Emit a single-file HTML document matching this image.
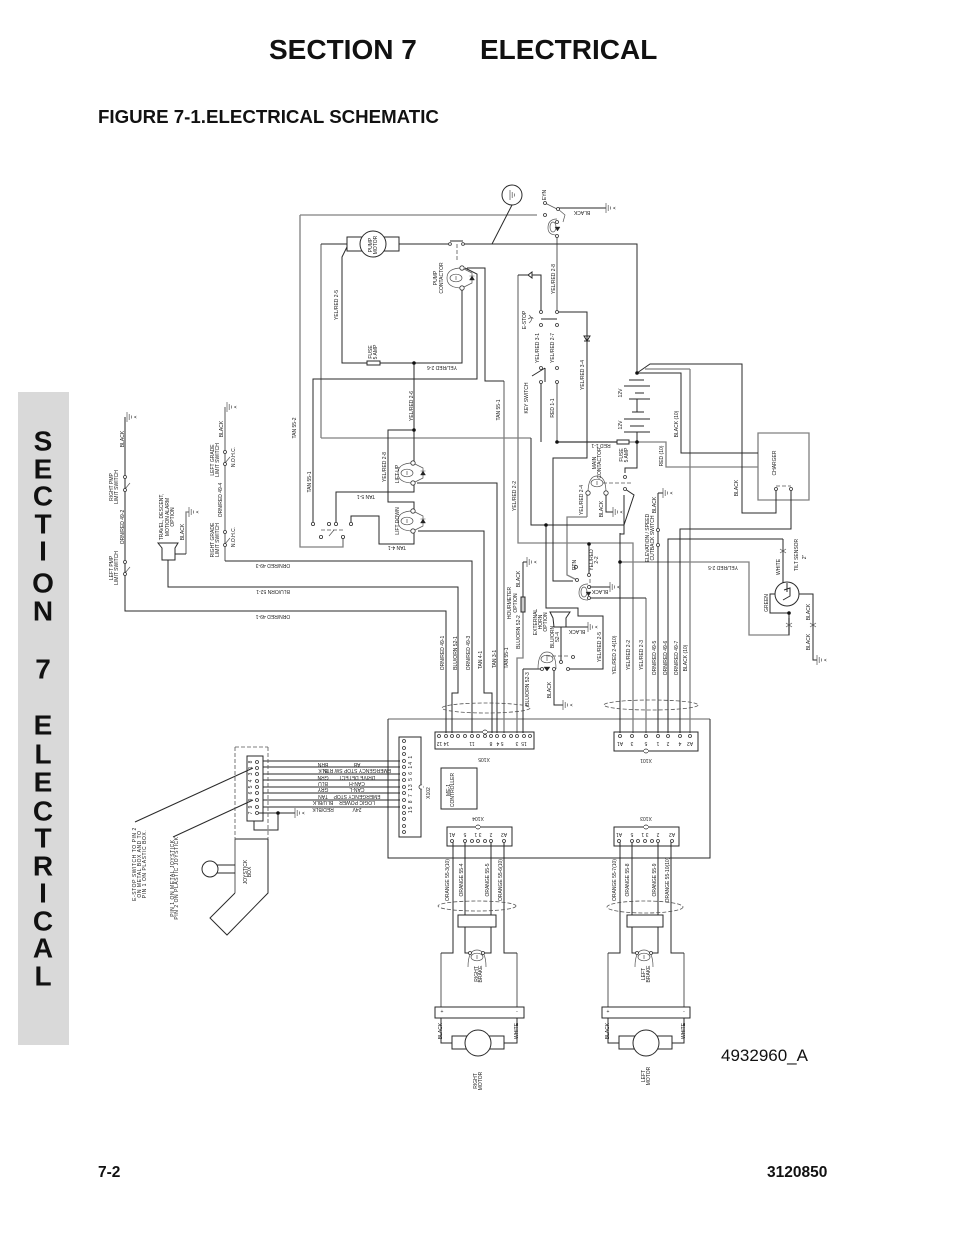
<!DOCTYPE html>
<html><head><meta charset="utf-8"><style>
html,body{margin:0;padding:0;background:#fff}
#p{position:relative;width:954px;height:1235px;overflow:hidden;font-family:"Liberation Sans",sans-serif;color:#111}
.a{position:absolute;white-space:nowrap;line-height:1}
svg{position:absolute;left:0;top:0}
.d{fill:none;stroke:#2a2a2a;stroke-width:1}
.g{fill:none;stroke:#808080;stroke-width:1.3}
.f{fill:none;stroke:#555;stroke-width:.7}
.h{fill:none;stroke:#555;stroke-width:.8;stroke-dasharray:4 2}
.c circle{fill:#fff;stroke:#333;stroke-width:.8}
.b circle{fill:#111;stroke:none}
.k{fill:#222;stroke:#222;stroke-width:.4}
text{font-family:"Liberation Sans",sans-serif;font-size:5px;fill:#222;text-anchor:middle;dominant-baseline:central}
.s text{font-size:28px;font-weight:bold;fill:#111}
.w{letter-spacing:.55px}
</style></head><body><div id="p">
<div class="a" style="left:269px;top:36px;font-size:28px;font-weight:bold">SECTION 7</div>
<div class="a" style="left:480px;top:36px;font-size:28px;font-weight:bold">ELECTRICAL</div>
<div class="a" style="left:98px;top:108px;font-size:18.7px;font-weight:bold">FIGURE 7-1.ELECTRICAL SCHEMATIC</div>
<div class="a" style="left:18px;top:392px;width:51px;height:653px;background:#d9d9d9"></div>
<div class="a" style="left:721px;top:1047px;font-size:17px">4932960_A</div>
<div class="a" style="left:98px;top:1165px;font-size:15.5px;font-weight:bold">7-2</div>
<div class="a" style="left:767px;top:1165px;font-size:15.5px;font-weight:bold">3120850</div>
<svg width="954" height="1235" viewBox="0 0 954 1235">
<defs>
<g id="gr"><path class="f" d="M0-5V5M2.2-3V3M4.4-1.5V1.5"/><text x="8" y="0" transform="rotate(-90 8 0)" style="font-size:4px">A</text></g>
<g id="sw"><path class="f" d="M0-1 5-7"/></g>
<g id="cl"><ellipse class="f" cx="0" cy="0" rx="6" ry="3.8"/><path class="f" d="M6-10Q-9-10-9 0Q-9 10 6 10M0-2V2M6-10 16-5V5L6 10"/><path class="k" d="M13.5 2H18.5L16-2ZM13.5-2H18.5"/></g>
<g id="cm"><ellipse class="f" cx="0" cy="0" rx="6" ry="3.8"/><path class="f" d="M-9 10Q-9-7 0-7Q9-7 9 10M0-2V2"/></g>
<g id="cr"><path class="f" d="M0-9Q-9-9-9 0Q-9 7 0 7"/><ellipse class="f" cx="-4" cy="-1" rx="3" ry="5"/><path class="k" d="M-2-1H3L.5 3Z"/></g>
</defs>
<g class="s">
<text x="43" y="441">S</text><text x="43" y="469">E</text><text x="43" y="496">C</text><text x="43" y="524">T</text><text x="43" y="551">I</text><text x="43" y="583">O</text><text x="43" y="611">N</text><text x="43" y="669">7</text><text x="43" y="725">E</text><text x="43" y="754">L</text><text x="43" y="782">E</text><text x="43" y="811">C</text><text x="43" y="838">T</text><text x="43" y="866">R</text><text x="43" y="893">I</text><text x="43" y="921">C</text><text x="43" y="948">A</text><text x="43" y="976">L</text>
</g>
<!-- grey wires -->
<path class="g" d="M300 215H537M300 215V547H343V537M321 244V438M518 275V543H633V733M557 237V312M690 369V733M645 369H690M557 382V442H617M629 442H666V467H758M587 517H567V575L577 580M646 598V733M620 562H749V635H789V618M504 381V733M321 438H531M523 612V658H517V733M186 554V512H189M225 407V561M758 433H809V500H758Z"/>
<path class="g" d="M441 953V1007M517 953V1007M608 953V1007M684 953V1007M388 719H710M235 839V893M587 493V517"/>
<!-- dark wires -->
<path class="d" d="M321 244H347M399 244H450M463 244H637V373M512 205 492 244M347 247 342 257V363H367M380 363H462V288M414 363V462M414 430H388V502H414V511M467 268H485V381H504M465 268 477 274V379H313V523M417 483H497V733M414 483V492H336V523M418 531H484V693H492V733M414 531V544H379V516H351V523M225 561H472V733M168 560V587H458V693H452V733M125 417V611H446V733"/>
<path class="d" d="M518 275H528M532 275H541V312M557 312H587V458H553V581H573M541 319H557M541 382V442M558 208H606M557 442H617M637 442V468H625V473M637 373 650 364H742V513H776V489M637 373H681V453H758M791 489V529H680V733M783 539H668V733M783 539V583M781 594H770V613H789M789 613V635M620 533V733M620 534H624V495M625 489 634 495 624 525H531V438M658 493V733M663 493H658M589 544V575M589 587H610M589 598H646M546 525V608H578V616H603V669H569M561 627V662M566 627H588M523 669H541M523 669V733M554 669V705H563M523 562V597M527 562H523M606 493V512H613"/>
<path class="d" d="M125 477V490M175 554H186M545 368V382M532 376 545 368M453 841V953H441M465 841V915M465 927V953H470M491 841V915M491 927V953H483M504 841V953H517M441 1018V1043H452M504 1043H517V1018M620 841V953H608M632 841V915M632 927V953H637M658 841V915M658 927V953H651M671 841V953H684M608 1018V1043H619M672 1043H684V1018M799 594H813V660H817"/>
<path class="d" d="M263 761H400M263 767H400M263 774H400M263 780H400M263 787H400M263 793H400M263 800H400M263 807H400M257 813H295M278 813V830H254V821M253 768 135 822M253 800 173 837M217 865H235M217 873H235M235 839H268M268 839V893L227 935 210 918 235 893"/>
<path class="f" d="M558 209 565 215 563 222M545 203 557 209M503 195H510M780 549 786 553M786 549 780 553M786 623 792 627M792 623 786 627M810 623 816 627M816 623 810 627M528 319Q533 316 533 319M529 315Q534 319 529 323"/>
<!-- boxes -->
<g class="d">
<rect x="347" y="237" width="52" height="14"/><circle cx="373" cy="244" r="13" fill="#fff"/>
<rect x="367" y="361" width="13" height="4" fill="#fff"/><rect x="617" y="440" width="12" height="4" fill="#fff"/>
<circle cx="512" cy="195" r="10" fill="#fff"/>
<path d="M388 719V858H710V719"/>
<rect x="435" y="732" width="99" height="17"/><rect x="614" y="732" width="84" height="19"/><rect x="399" y="737" width="22" height="100"/><rect x="441" y="768" width="36" height="41"/><rect x="447" y="827" width="65" height="19"/><rect x="614" y="827" width="65" height="19"/>
<rect x="247" y="756" width="16" height="65"/>
<rect x="458" y="915" width="38" height="12" fill="#fff"/><rect x="627" y="915" width="36" height="12" fill="#fff"/>
<rect x="435" y="1007" width="89" height="11" fill="#fff"/><rect x="602" y="1007" width="88" height="11" fill="#fff"/>
<rect x="452" y="1036" width="52" height="13"/><circle cx="478" cy="1043" r="13" fill="#fff"/>
<rect x="619" y="1036" width="53" height="13"/><circle cx="646" cy="1043" r="13" fill="#fff"/>
<circle cx="210" cy="869" r="8"/><circle cx="787" cy="594" r="12" fill="#fff"/>
<path d="M158 543H178L175 548V560H162V548ZM550 612H570L566 618V627H554L553 618Z" fill="#fff"/>
<rect x="521" y="597" width="4" height="15" fill="#ccc"/>
<path d="M629 380H644M624 386H650M635 393H644M629 399H650M637 399V412M632 412H644M624 419H650M630 426H644M624 432H650M637 432V442"/>
<path d="M450 241H463"/>
<path d="M784 590 790 588V596L783 600M787 592V583"/>
<path d="M584 336H590L587 341ZM584 341H590M532 272V278L528 275Z"/>
</g>
<path class="h" d="M457 244V262M603 483H632M321 530H343M776 486H791M235 747H268M268 747V839M235 747V839M546 656H569M590 579V590"/>
<g class="h"><ellipse cx="486" cy="708" rx="44" ry="5" fill="none"/><ellipse cx="651" cy="705" rx="47" ry="5" fill="none"/><ellipse cx="477" cy="906" rx="39" ry="5" fill="none"/><ellipse cx="645" cy="907" rx="38" ry="6" fill="none"/></g>
<use href="#cl" x="456" y="278"/><use href="#cl" x="407" y="473"/><use href="#cl" x="407" y="521"/><use href="#cm" x="597" y="483"/><use href="#cr" x="557" y="228"/><use href="#cr" x="588" y="593"/><use href="#cm" x="547" y="659"/><use href="#cm" x="477" y="957"/><use href="#cm" x="644" y="957"/>
<path class="k" d="M544 667H550L547 671Z"/>
<use href="#gr" x="606" y="208"/><use href="#gr" x="610" y="587"/><use href="#gr" x="613" y="512"/><use href="#gr" x="663" y="493"/><use href="#gr" x="588" y="627"/><use href="#gr" x="563" y="705"/><use href="#gr" x="527" y="562"/><use href="#gr" x="127" y="417"/><use href="#gr" x="227" y="407"/><use href="#gr" x="189" y="512"/><use href="#gr" x="295" y="813"/><use href="#gr" x="817" y="660"/>
<path class="f" d="M510 190V200M512.200 192V198M514.400 193.500V196.500"/>
<use href="#sw" x="225" y="464"/><use href="#sw" x="225" y="545"/><use href="#sw" x="125" y="490"/><use href="#sw" x="125" y="574"/><use href="#sw" x="329" y="537"/>
<g class="c">
<circle cx="462" cy="268" r="2.2"/><circle cx="462" cy="288" r="2.2"/><circle cx="413" cy="463" r="2.2"/><circle cx="413" cy="483" r="2.2"/><circle cx="413" cy="511" r="2.2"/><circle cx="413" cy="531" r="2.2"/><circle cx="450" cy="244" r="1.4"/><circle cx="463" cy="244" r="1.4"/>
<circle cx="313" cy="524" r="1.6"/><circle cx="329" cy="524" r="1.6"/><circle cx="336" cy="524" r="1.6"/><circle cx="351" cy="524" r="1.6"/><circle cx="321" cy="537" r="1.6"/><circle cx="343" cy="537" r="1.6"/>
<circle cx="545" cy="203" r="1.5"/><circle cx="558" cy="209" r="1.5"/><circle cx="545" cy="215" r="1.5"/><circle cx="557" cy="222" r="1.5"/><circle cx="557" cy="236" r="1.5"/>
<circle cx="541" cy="312" r="1.5"/><circle cx="557" cy="312" r="1.5"/><circle cx="541" cy="325" r="1.5"/><circle cx="557" cy="325" r="1.5"/><circle cx="541" cy="368" r="1.5"/><circle cx="557" cy="368" r="1.5"/><circle cx="541" cy="382" r="1.5"/><circle cx="557" cy="382" r="1.5"/>
<circle cx="625" cy="477" r="1.5"/><circle cx="625" cy="489" r="1.5"/><circle cx="588" cy="493" r="2.2"/><circle cx="606" cy="493" r="2.2"/><circle cx="658" cy="530" r="1.5"/><circle cx="658" cy="545" r="1.5"/><circle cx="776" cy="489" r="1.5"/><circle cx="791" cy="489" r="1.5"/>
<circle cx="576" cy="567" r="1.5"/><circle cx="589" cy="575" r="1.5"/><circle cx="577" cy="580" r="1.5"/><circle cx="589" cy="587" r="1.5"/><circle cx="589" cy="598" r="1.5"/><circle cx="573" cy="657" r="1.5"/><circle cx="561" cy="662" r="1.5"/><circle cx="568" cy="669" r="1.5"/><circle cx="542" cy="669" r="1.5"/><circle cx="554" cy="669" r="1.5"/>
<circle cx="225" cy="452" r="1.5"/><circle cx="225" cy="464" r="1.5"/><circle cx="225" cy="532" r="1.5"/><circle cx="225" cy="545" r="1.5"/><circle cx="125" cy="477" r="1.5"/><circle cx="125" cy="490" r="1.5"/><circle cx="125" cy="562" r="1.5"/><circle cx="125" cy="574" r="1.5"/>
<circle cx="439" cy="736" r="1.5"/><circle cx="446" cy="736" r="1.5"/><circle cx="452" cy="736" r="1.5"/><circle cx="458" cy="736" r="1.5"/><circle cx="465" cy="736" r="1.5"/><circle cx="472" cy="736" r="1.5"/><circle cx="478" cy="736" r="1.5"/><circle cx="485" cy="736" r="1.5"/><circle cx="491" cy="736" r="1.5"/><circle cx="497" cy="736" r="1.5"/><circle cx="504" cy="736" r="1.5"/><circle cx="511" cy="736" r="1.5"/><circle cx="517" cy="736" r="1.5"/><circle cx="524" cy="736" r="1.5"/><circle cx="530" cy="736" r="1.5"/>
<circle cx="620" cy="736" r="1.5"/><circle cx="632" cy="736" r="1.5"/><circle cx="646" cy="736" r="1.5"/><circle cx="658" cy="736" r="1.5"/><circle cx="668" cy="736" r="1.5"/><circle cx="680" cy="736" r="1.5"/><circle cx="690" cy="736" r="1.5"/>
<circle cx="404" cy="741" r="1.5"/><circle cx="404" cy="748" r="1.5"/><circle cx="404" cy="754" r="1.5"/><circle cx="404" cy="761" r="1.5"/><circle cx="404" cy="767" r="1.5"/><circle cx="404" cy="774" r="1.5"/><circle cx="404" cy="780" r="1.5"/><circle cx="404" cy="787" r="1.5"/><circle cx="404" cy="793" r="1.5"/><circle cx="404" cy="800" r="1.5"/><circle cx="404" cy="807" r="1.5"/><circle cx="404" cy="813" r="1.5"/><circle cx="404" cy="819" r="1.5"/><circle cx="404" cy="826" r="1.5"/><circle cx="404" cy="832" r="1.5"/>
<circle cx="452" cy="841" r="1.5"/><circle cx="465" cy="841" r="1.5"/><circle cx="472" cy="841" r="1.5"/><circle cx="478" cy="841" r="1.5"/><circle cx="485" cy="841" r="1.5"/><circle cx="491" cy="841" r="1.5"/><circle cx="504" cy="841" r="1.5"/>
<circle cx="619" cy="841" r="1.5"/><circle cx="632" cy="841" r="1.5"/><circle cx="638" cy="841" r="1.5"/><circle cx="645" cy="841" r="1.5"/><circle cx="652" cy="841" r="1.5"/><circle cx="658" cy="841" r="1.5"/><circle cx="672" cy="841" r="1.5"/>
<circle cx="257" cy="762" r="1.5"/><circle cx="257" cy="768" r="1.5"/><circle cx="257" cy="774" r="1.5"/><circle cx="257" cy="781" r="1.5"/><circle cx="257" cy="787" r="1.5"/><circle cx="257" cy="793" r="1.5"/><circle cx="257" cy="800" r="1.5"/><circle cx="257" cy="807" r="1.5"/><circle cx="257" cy="813" r="1.5"/>
<circle cx="470" cy="953" r="1.5"/><circle cx="483" cy="953" r="1.5"/><circle cx="637" cy="953" r="1.5"/><circle cx="651" cy="953" r="1.5"/>
<circle cx="485" cy="732" r="2"/><circle cx="646" cy="751" r="2"/><circle cx="421" cy="787" r="2"/><circle cx="478" cy="827" r="2"/><circle cx="646" cy="827" r="2"/>
</g>
<path d="M483 731H487V733H483ZM644 750H648V752H644ZM421.500 785H423V789H421.500ZM476 826H480V828H476ZM644 826H648V828H644Z" fill="#fff"/>
<g class="b"><circle cx="414" cy="363" r="1.8"/><circle cx="414" cy="430" r="1.8"/><circle cx="637" cy="373" r="1.8"/><circle cx="557" cy="442" r="1.8"/><circle cx="637" cy="442" r="1.8"/><circle cx="546" cy="525" r="1.8"/><circle cx="589" cy="544" r="1.8"/><circle cx="620" cy="562" r="1.8"/><circle cx="789" cy="613" r="1.8"/><circle cx="278" cy="813" r="1.8"/></g>
<!-- labels -->
<g>
<text transform="translate(337 305) rotate(-90)">YEL/RED 2-5</text>
<text transform="translate(371 352) rotate(-90)">FUSE</text><text transform="translate(376 352) rotate(-90)">5 AMP</text>
<text transform="translate(371 245) rotate(-90)">PUMP</text><text transform="translate(376 245) rotate(-90)">MOTOR</text>
<text transform="translate(436 278) rotate(-90)">PUMP</text><text transform="translate(442 278) rotate(-90)">CONTACTOR</text>
<text transform="translate(442 367) rotate(180)">YEL/RED 2-6</text>
<text transform="translate(412 406) rotate(-90)">YEL/RED 2-6</text>
<text transform="translate(525 320) rotate(-90)">E-STOP</text>
<text transform="translate(538 348) rotate(-90)">YEL/RED 3-1</text>
<text transform="translate(553 348) rotate(-90)">YEL/RED 2-7</text>
<text transform="translate(527 398) rotate(-90)">KEY SWITCH</text>
<text transform="translate(499 410) rotate(-90)">TAN 55-1</text>
<text transform="translate(295 428) rotate(-90)">TAN 55-2</text>
<text transform="translate(310 482) rotate(-90)">TAN 55-1</text>
<text transform="translate(366 496) rotate(180)">TAN 5-1</text>
<text transform="translate(385 467) rotate(-90)">YEL/RED 2-8</text>
<text transform="translate(398 474) rotate(-90)">LIFT UP</text>
<text transform="translate(398 521) rotate(-90)">LIFT DOWN</text>
<text transform="translate(397 547) rotate(180)">TAN 4-1</text>
<text transform="translate(515 496) rotate(-90)">YEL/RED 2-2</text>
<text transform="translate(443 653) rotate(-90)">ORN/RED 49-1</text>
<text transform="translate(456 653) rotate(-90)">BLU/ORN 52-1</text>
<text transform="translate(469 653) rotate(-90)">ORN/RED 49-3</text>
<text transform="translate(481 660) rotate(-90)">TAN 4-1</text>
<text transform="translate(495 659) rotate(-90)">TAN 3-1</text>
<text transform="translate(507 658) rotate(-90)">TAN 55-1</text>
<text transform="translate(519 632) rotate(-90)">BLU/ORN 52-2</text>
<text transform="translate(510 603) rotate(-90)">HOURMETER</text><text transform="translate(516 603) rotate(-90)">OPTION</text>
<text transform="translate(528 689) rotate(-90)">BLU/ORN 52-3</text>
<text transform="translate(519 579) rotate(-90)">BLACK</text>
<text transform="translate(536 622) rotate(-90)">EXTERNAL</text><text transform="translate(541 622) rotate(-90)">HORN</text><text transform="translate(546 622) rotate(-90)">OPTION</text>
<text transform="translate(582 500) rotate(-90)">YEL/RED 2-4</text>
<text transform="translate(602 509) rotate(-90)">BLACK</text>
<text transform="translate(595 463) rotate(-90)">MAIN</text><text transform="translate(600 463) rotate(-90)">CONTACTOR</text>
<text transform="translate(655 505) rotate(-90)">BLACK</text>
<text transform="translate(648 538) rotate(-90)">ELEVATION / SPEED</text><text transform="translate(653 538) rotate(-90)">CUTBACK SWITCH</text>
<text transform="translate(592 560) rotate(-90)">YEL/RED</text><text transform="translate(597 560) rotate(-90)">2-2</text>
<text transform="translate(575 565) rotate(-90)">RTN</text>
<text transform="translate(600 591) rotate(180)">BLACK</text>
<text transform="translate(737 488) rotate(-90)">BLACK</text>
<text transform="translate(775 463) rotate(-90)">CHARGER</text>
<text transform="translate(723 567) rotate(180)">YEL/RED 2-5</text>
<text transform="translate(779 567) rotate(-90)">WHITE</text>
<text transform="translate(797 555) rotate(-90)">TILT SENSOR</text><text transform="translate(805 557) rotate(-90)">2"</text>
<text transform="translate(767 603) rotate(-90)">GREEN</text>
<text transform="translate(809 612) rotate(-90)">BLACK</text><text transform="translate(809 642) rotate(-90)">BLACK</text>
<text transform="translate(550 690) rotate(-90)">BLACK</text>
<text transform="translate(600 647) rotate(-90)">YEL/RED 2-5</text>
<text transform="translate(577 631) rotate(180)">BLACK</text>
<text transform="translate(553 637) rotate(-90)">BLU/ORN</text><text transform="translate(558 637) rotate(-90)">52-4</text>
<text transform="translate(615 655) rotate(-90)">YEL/RED 2-4(10)</text>
<text transform="translate(629 655) rotate(-90)">YEL/RED 2-2</text>
<text transform="translate(642 655) rotate(-90)">YEL/RED 2-3</text>
<text transform="translate(655 658) rotate(-90)">ORN/RED 49-5</text>
<text transform="translate(666 658) rotate(-90)">ORN/RED 49-6</text>
<text transform="translate(677 658) rotate(-90)">ORN/RED 49-7</text>
<text transform="translate(686 658) rotate(-90)">BLACK (10)</text>
<text transform="translate(554 279) rotate(-90)">YEL/RED 2-8</text>
<text transform="translate(583 375) rotate(-90)">YEL/RED 3-4</text>
<text transform="translate(553 408) rotate(-90)">RED 1-1</text>
<text transform="translate(621 393) rotate(-90)">12V</text><text transform="translate(621 425) rotate(-90)">12V</text>
<text transform="translate(677 424) rotate(-90)">BLACK (10)</text>
<text transform="translate(662 456) rotate(-90)">RED (10)</text>
<text transform="translate(601 445) rotate(180)">RED 1-1</text>
<text transform="translate(622 455) rotate(-90)">FUSE</text><text transform="translate(627 455) rotate(-90)">5 AMP</text>
<text transform="translate(582 212) rotate(180)">BLACK</text>
<text transform="translate(545 195) rotate(-90)">EYN</text>
<text transform="translate(123 439) rotate(-90)">BLACK</text>
<text transform="translate(112 487) rotate(-90)">RIGHT PMP</text><text transform="translate(117 487) rotate(-90)">LIMIT SWITCH</text>
<text transform="translate(123 527) rotate(-90)">ORN/RED 49-2</text>
<text transform="translate(112 568) rotate(-90)">LEFT PMP</text><text transform="translate(117 568) rotate(-90)">LIMIT SWITCH</text>
<text transform="translate(162 517) rotate(-90)">TRAVEL, DESCENT,</text><text transform="translate(168 517) rotate(-90)">MOTION ALARM</text><text transform="translate(173 517) rotate(-90)">OPTION</text>
<text transform="translate(183 532) rotate(-90)">BLACK</text>
<text transform="translate(213 460) rotate(-90)">LEFT GRADE</text><text transform="translate(218 460) rotate(-90)">LIMIT SWITCH</text>
<text transform="translate(222 429) rotate(-90)">BLACK</text>
<text transform="translate(234 457) rotate(-90)">N.O.H.C.</text>
<text transform="translate(221 500) rotate(-90)">ORN/RED 49-4</text>
<text transform="translate(213 540) rotate(-90)">RIGHT GRADE</text><text transform="translate(218 540) rotate(-90)">LIMIT SWITCH</text>
<text transform="translate(234 537) rotate(-90)">N.O.H.C.</text>
<text transform="translate(273 565) rotate(180)">ORN/RED 49-3</text>
<text transform="translate(273 591) rotate(180)">BLU/ORN 52-1</text>
<text transform="translate(273 616) rotate(180)">ORN/RED 49-1</text>
<text transform="translate(484 759) rotate(180)">X105</text>
<text transform="translate(646 760) rotate(180)">X101</text>
<text transform="translate(478 818) rotate(180)">X104</text>
<text transform="translate(646 818) rotate(180)">X103</text>
<text transform="translate(429 793) rotate(-90)">X102</text>
<text transform="translate(449 790) rotate(-90)">ME-1</text><text transform="translate(453 790) rotate(-90)">CONTROLLER</text>
<text transform="translate(448 880) rotate(-90)">ORANGE 55-3(10)</text>
<text transform="translate(462 880) rotate(-90)">ORANGE 55-4</text>
<text transform="translate(488 880) rotate(-90)">ORANGE 55-5</text>
<text transform="translate(501 880) rotate(-90)">ORANGE 55-6(10)</text>
<text transform="translate(615 880) rotate(-90)">ORANGE 55-7(10)</text>
<text transform="translate(628 880) rotate(-90)">ORANGE 55-8</text>
<text transform="translate(655 880) rotate(-90)">ORANGE 55-9</text>
<text transform="translate(668 880) rotate(-90)">ORANGE 55-10(10)</text>
<text transform="translate(477 974) rotate(-90)">RIGHT</text><text transform="translate(481 974) rotate(-90)">BRAKE</text>
<text transform="translate(644 974) rotate(-90)">LEFT</text><text transform="translate(649 974) rotate(-90)">BRAKE</text>
<text transform="translate(441 1031) rotate(-90)">BLACK</text><text transform="translate(517 1031) rotate(-90)">WHITE</text>
<text transform="translate(608 1031) rotate(-90)">BLACK</text><text transform="translate(684 1031) rotate(-90)">WHITE</text>
<text transform="translate(476 1081) rotate(-90)">RIGHT</text><text transform="translate(481 1081) rotate(-90)">MOTOR</text>
<text transform="translate(644 1076) rotate(-90)">LEFT</text><text transform="translate(649 1076) rotate(-90)">MOTOR</text>
<text transform="translate(246 872) rotate(-90)">JOYSTICK</text><text transform="translate(250 872) rotate(-90)">BOX</text>
<text class="w" transform="translate(135 864) rotate(-90)">E-STOP SWITCH TO PIN 2</text><text class="w" transform="translate(140 864) rotate(-90)">ON METAL BOX AND TO</text><text class="w" transform="translate(145 864) rotate(-90)">PIN 1 ON PLASTIC BOX.</text>
<text class="w" transform="translate(173 878) rotate(-90)">PIN 1 ON METAL JOYSTICK</text><text class="w" transform="translate(177 878) rotate(-90)">PIN 2 ON PLASTIC JOYSTICK</text>
<text style="letter-spacing:1px" transform="translate(411 784) rotate(-90)">15 8 7 13 5 6 14 1</text>
<text transform="translate(251 762) rotate(-90)">8</text><text transform="translate(251 768) rotate(-90)">1</text><text transform="translate(251 774) rotate(-90)">3</text><text transform="translate(251 781) rotate(-90)">4</text><text transform="translate(251 787) rotate(-90)">5</text><text transform="translate(251 793) rotate(-90)">6</text><text transform="translate(251 800) rotate(-90)">9</text><text transform="translate(251 807) rotate(-90)">9</text><text transform="translate(251 813) rotate(-90)">7</text>
<text transform="translate(323 764) rotate(180)">BRN</text><text transform="translate(357 764) rotate(180)">AB</text>
<text transform="translate(323 770) rotate(180)">BLK</text><text transform="translate(357 770) rotate(180)">EMERGENCY STOP SW RTN</text>
<text transform="translate(323 777) rotate(180)">GRN</text><text transform="translate(357 777) rotate(180)">DRIVE DETECT</text>
<text transform="translate(323 783) rotate(180)">BLU</text><text transform="translate(357 783) rotate(180)">CAN-H</text>
<text transform="translate(323 789) rotate(180)">GRY</text><text transform="translate(357 789) rotate(180)">CAN-L</text>
<text transform="translate(323 796) rotate(180)">TAN</text><text transform="translate(357 796) rotate(180)">EMERGENCY STOP</text>
<text transform="translate(323 802) rotate(180)">BLU/BLK</text><text transform="translate(357 802) rotate(180)">LOGIC POWER</text>
<text transform="translate(323 809) rotate(180)">RED/BLK</text><text transform="translate(357 809) rotate(180)">24V</text>
<text transform="translate(443 743) rotate(180)">14 12</text><text transform="translate(472 743) rotate(180)">11</text><text transform="translate(491 743) rotate(180)">8</text><text transform="translate(500 743) rotate(180)">5 4</text><text transform="translate(517 743) rotate(180)">3</text><text transform="translate(524 743) rotate(180)">15</text>
<text transform="translate(620 743) rotate(180)">A1</text><text transform="translate(632 743) rotate(180)">3</text><text transform="translate(646 743) rotate(180)">5</text><text transform="translate(658 743) rotate(180)">1</text><text transform="translate(668 743) rotate(180)">2</text><text transform="translate(680 743) rotate(180)">4</text><text transform="translate(690 743) rotate(180)">A2</text>
<text transform="translate(452 834) rotate(180)">A1</text><text transform="translate(465 834) rotate(180)">5</text><text transform="translate(478 834) rotate(180)">3 1</text><text transform="translate(491 834) rotate(180)">2</text><text transform="translate(504 834) rotate(180)">A2</text>
<text transform="translate(619 834) rotate(180)">A1</text><text transform="translate(632 834) rotate(180)">5</text><text transform="translate(645 834) rotate(180)">3 1</text><text transform="translate(658 834) rotate(180)">2</text><text transform="translate(672 834) rotate(180)">A2</text>
<text x="442" y="1012">+</text><text x="517" y="1012">-</text><text x="608" y="1012">+</text><text x="684" y="1012">-</text>
</g>
</svg>
</div></body></html>
